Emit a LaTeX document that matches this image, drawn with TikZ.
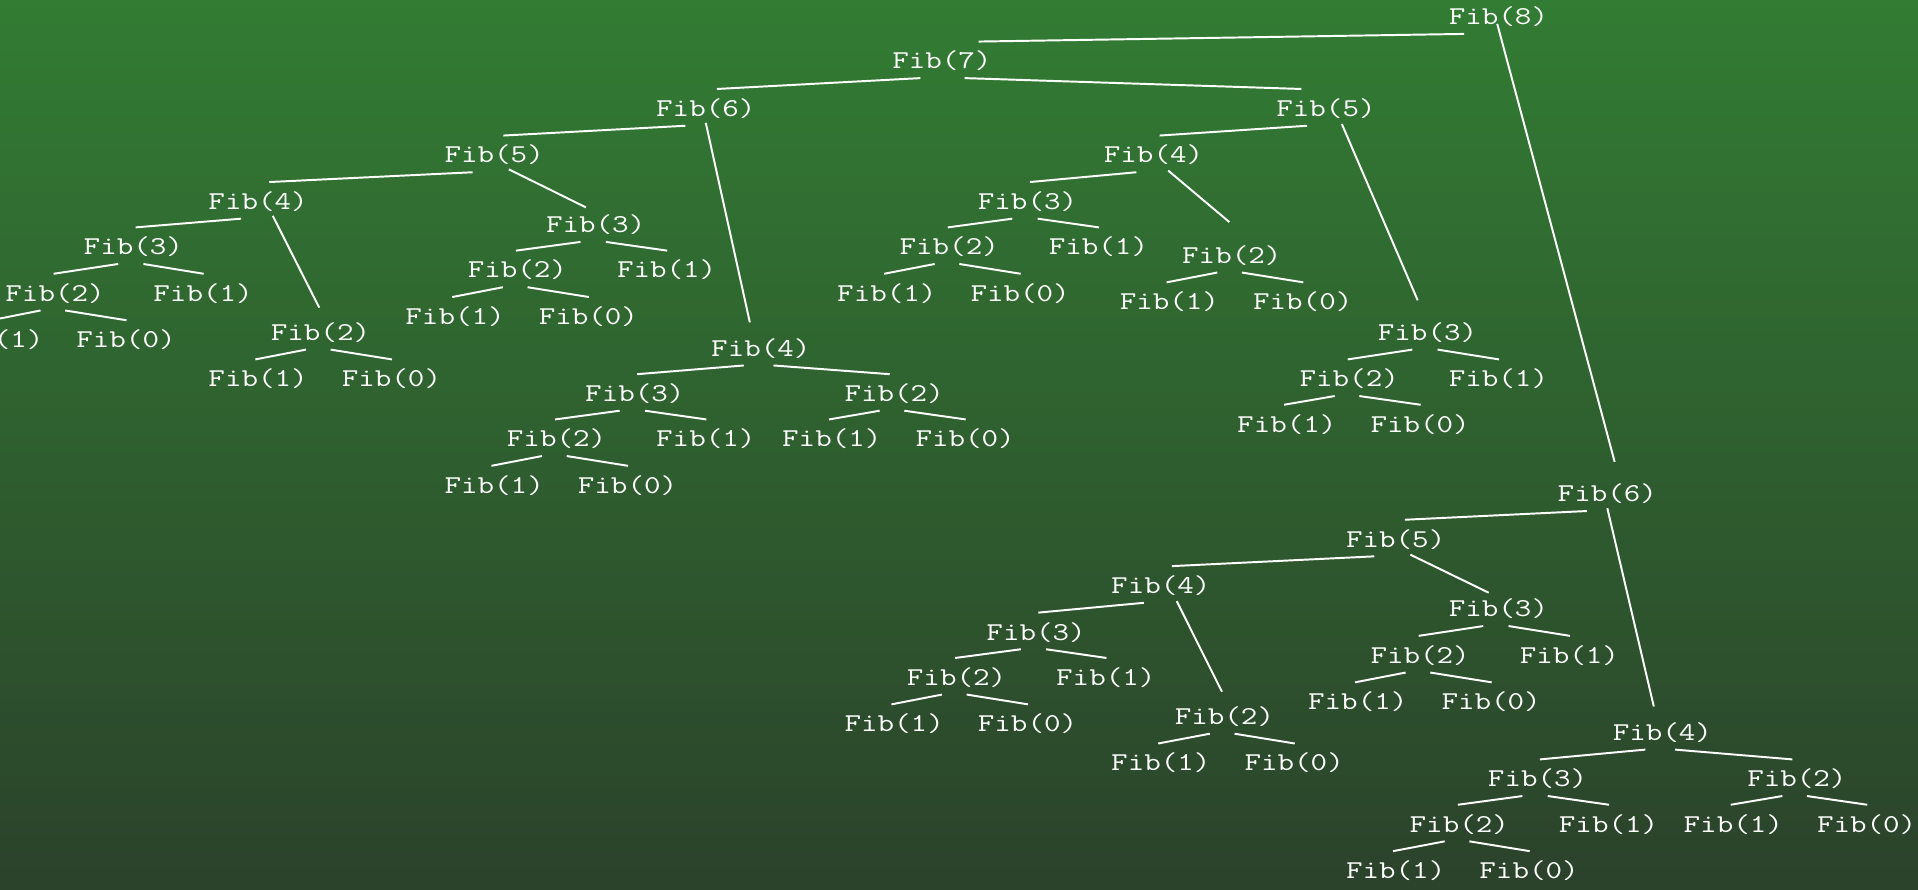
\documentclass[tikz,border=0pt]{standalone}
\usepackage{fontspec}
\usetikzlibrary{calc}
\definecolor{bgtop}{RGB}{50,124,51}
\definecolor{bgbot}{RGB}{43,66,43}
\tikzset{
  fib/.style={font=\ttfamily\fontsize{21}{22}\selectfont, text=white,
    inner sep=0pt, text height=17.5pt, text depth=3pt},
  conn/.style={draw=white, line width=1.6pt},
}
% node: name, x, y, argument
\newcommand\Fn[4]{\node[fib] (#1) at (#2,#3) {\scalebox{1.25}[1]{Fib(#4)}};}
% flat edges, trimmed at both ends in proportion to their length
\newcommand\Eg[4]{%
  \path ([shift={(#3,4)}]#1.south) coordinate (ea)
        ([shift={(#4,-4)}]#2.north) coordinate (eb);
  \draw[conn] ($(ea)!0.04!(eb)$) -- ($(eb)!0.08!(ea)$);}
\newcommand\EL[2]{\Eg{#1}{#2}{-10}{-6}}
\newcommand\ER[2]{\Eg{#1}{#2}{6}{5}}
% steep edges: parent offset (sx,sy), child offset (tx,ty)
\newcommand\ES[6]{\draw[conn] ([shift={(#3,#4)}]#1.south) -- ([shift={(#5,#6)}]#2.north);}
\begin{document}
\begin{tikzpicture}[x=1pt,y=-1pt]
\useasboundingbox (0,0) rectangle (1568,727);
\clip (0,0) rectangle (1568,727);
\shade[top color=bgtop, bottom color=bgbot] (0,0) rectangle (1568,727);

% call tree of Fib(8)
\Fn{r}{1225}{13}{8}
\Fn{rL}{770}{49}{7}
\Fn{rR}{1314}{403}{6}
\Fn{rLL}{577}{88}{6}
\Fn{rLR}{1084}{88}{5}
\Fn{rLLL}{404}{126}{5}
\Fn{rLLR}{622}{284}{4}
\Fn{rLLLL}{211}{164}{4}
\Fn{rLLLR}{487}{183}{3}
\Fn{rLLLLL}{109}{201}{3}
\Fn{rLLLLR}{262}{271}{2}
\Fn{rLLLLLL}{45}{239}{2}
\Fn{rLLLLLR}{166}{239}{1}
\Fn{rLLLLLLL}{-5}{277}{1}
\Fn{rLLLLLLR}{103}{277}{0}
\Fn{rLLLLRL}{211}{309}{1}
\Fn{rLLLLRR}{320}{309}{0}
\Fn{rLLLRL}{423}{220}{2}
\Fn{rLLLRR}{545}{220}{1}
\Fn{rLLLRLL}{372}{258}{1}
\Fn{rLLLRLR}{481}{258}{0}
\Fn{rLLRL}{519}{321}{3}
\Fn{rLLRR}{731}{321}{2}
\Fn{rLLRLL}{455}{358}{2}
\Fn{rLLRLR}{577}{358}{1}
\Fn{rLLRLLL}{404}{396}{1}
\Fn{rLLRLLR}{513}{396}{0}
\Fn{rLLRRL}{680}{358}{1}
\Fn{rLLRRR}{789}{358}{0}
\Fn{rLRL}{943}{126}{4}
\Fn{rLRR}{1167}{271}{3}
\Fn{rLRLL}{840}{164}{3}
\Fn{rLRLR}{1007}{208}{2}
\Fn{rLRLLL}{776}{201}{2}
\Fn{rLRLLR}{898}{201}{1}
\Fn{rLRLLLL}{725}{239}{1}
\Fn{rLRLLLR}{834}{239}{0}
\Fn{rLRLRL}{956}{246}{1}
\Fn{rLRLRR}{1065}{246}{0}
\Fn{rLRRL}{1103}{309}{2}
\Fn{rLRRR}{1225}{309}{1}
\Fn{rLRRLL}{1052}{346}{1}
\Fn{rLRRLR}{1161}{346}{0}
\Fn{rRL}{1141}{440}{5}
\Fn{rRR}{1359}{598}{4}
\Fn{rRLL}{949}{478}{4}
\Fn{rRLR}{1225}{497}{3}
\Fn{rRLLL}{847}{516}{3}
\Fn{rRLLR}{1001}{585}{2}
\Fn{rRLLLL}{782}{553}{2}
\Fn{rRLLLR}{904}{553}{1}
\Fn{rRLLLLL}{731}{591}{1}
\Fn{rRLLLLR}{840}{591}{0}
\Fn{rRLLRL}{949}{623}{1}
\Fn{rRLLRR}{1058}{623}{0}
\Fn{rRLRL}{1161}{535}{2}
\Fn{rRLRR}{1283}{535}{1}
\Fn{rRLRLL}{1110}{573}{1}
\Fn{rRLRLR}{1219}{573}{0}
\Fn{rRRL}{1257}{636}{3}
\Fn{rRRR}{1469}{636}{2}
\Fn{rRRLL}{1193}{673}{2}
\Fn{rRRLR}{1315}{673}{1}
\Fn{rRRLLL}{1141}{711}{1}
\Fn{rRRLLR}{1250}{711}{0}
\Fn{rRRRL}{1417}{673}{1}
\Fn{rRRRR}{1526}{673}{0}

% calls
\EL{r}{rL} \ES{r}{rR}{-1}{-4}{6}{-15}
\EL{rL}{rLL} \ER{rL}{rLR}
\EL{rLL}{rLLL} \ES{rLL}{rLLR}{0}{2}{-9}{-10}
\EL{rLLL}{rLLLL} \ES{rLLL}{rLLLR}{12}{2}{-8}{-3}
\EL{rLLLL}{rLLLLL} \ES{rLLLL}{rLLLLR}{12}{2}{-1}{-9}
\EL{rLLLLL}{rLLLLLL} \ER{rLLLLL}{rLLLLLR}
\EL{rLLLLLL}{rLLLLLLL} \ER{rLLLLLL}{rLLLLLLR}
\EL{rLLLLR}{rLLLLRL} \ER{rLLLLR}{rLLLLRR}
\EL{rLLLR}{rLLLRL} \ER{rLLLR}{rLLLRR}
\EL{rLLLRL}{rLLLRLL} \ER{rLLLRL}{rLLLRLR}
\EL{rLLR}{rLLRL} \ER{rLLR}{rLLRR}
\EL{rLLRL}{rLLRLL} \ER{rLLRL}{rLLRLR}
\EL{rLLRLL}{rLLRLLL} \ER{rLLRLL}{rLLRLLR}
\EL{rLLRR}{rLLRRL} \ER{rLLRR}{rLLRRR}
\EL{rLR}{rLRL} \ES{rLR}{rLRR}{13}{3}{-8}{-15}
\EL{rLRL}{rLRLL} \ES{rLRL}{rLRLR}{12}{3}{-2}{-16}
\EL{rLRLL}{rLRLLL} \ER{rLRLL}{rLRLLR}
\EL{rLRLLL}{rLRLLLL} \ER{rLRLLL}{rLRLLLR}
\EL{rLRLR}{rLRLRL} \ER{rLRLR}{rLRLRR}
\EL{rLRR}{rLRRL} \ER{rLRR}{rLRRR}
\EL{rLRRL}{rLRRLL} \ER{rLRRL}{rLRRLR}
\EL{rR}{rRL} \ES{rR}{rRR}{0}{2}{-7}{-10}
\EL{rRL}{rRLL} \ES{rRL}{rRLR}{12}{3}{-8}{-2}
\EL{rRLL}{rRLLL} \ES{rRLL}{rRLLR}{13}{3}{-2}{-9}
\EL{rRLLL}{rRLLLL} \ER{rRLLL}{rRLLLR}
\EL{rRLLLL}{rRLLLLL} \ER{rRLLLL}{rRLLLLR}
\EL{rRLLR}{rRLLRL} \ER{rRLLR}{rRLLRR}
\EL{rRLR}{rRLRL} \ER{rRLR}{rRLRR}
\EL{rRLRL}{rRLRLL} \ER{rRLRL}{rRLRLR}
\EL{rRR}{rRRL} \ER{rRR}{rRRR}
\EL{rRRL}{rRRLL} \ER{rRRL}{rRRLR}
\EL{rRRLL}{rRRLLL} \ER{rRRLL}{rRRLLR}
\EL{rRRR}{rRRRL} \ER{rRRR}{rRRRR}
\end{tikzpicture}
\end{document}
